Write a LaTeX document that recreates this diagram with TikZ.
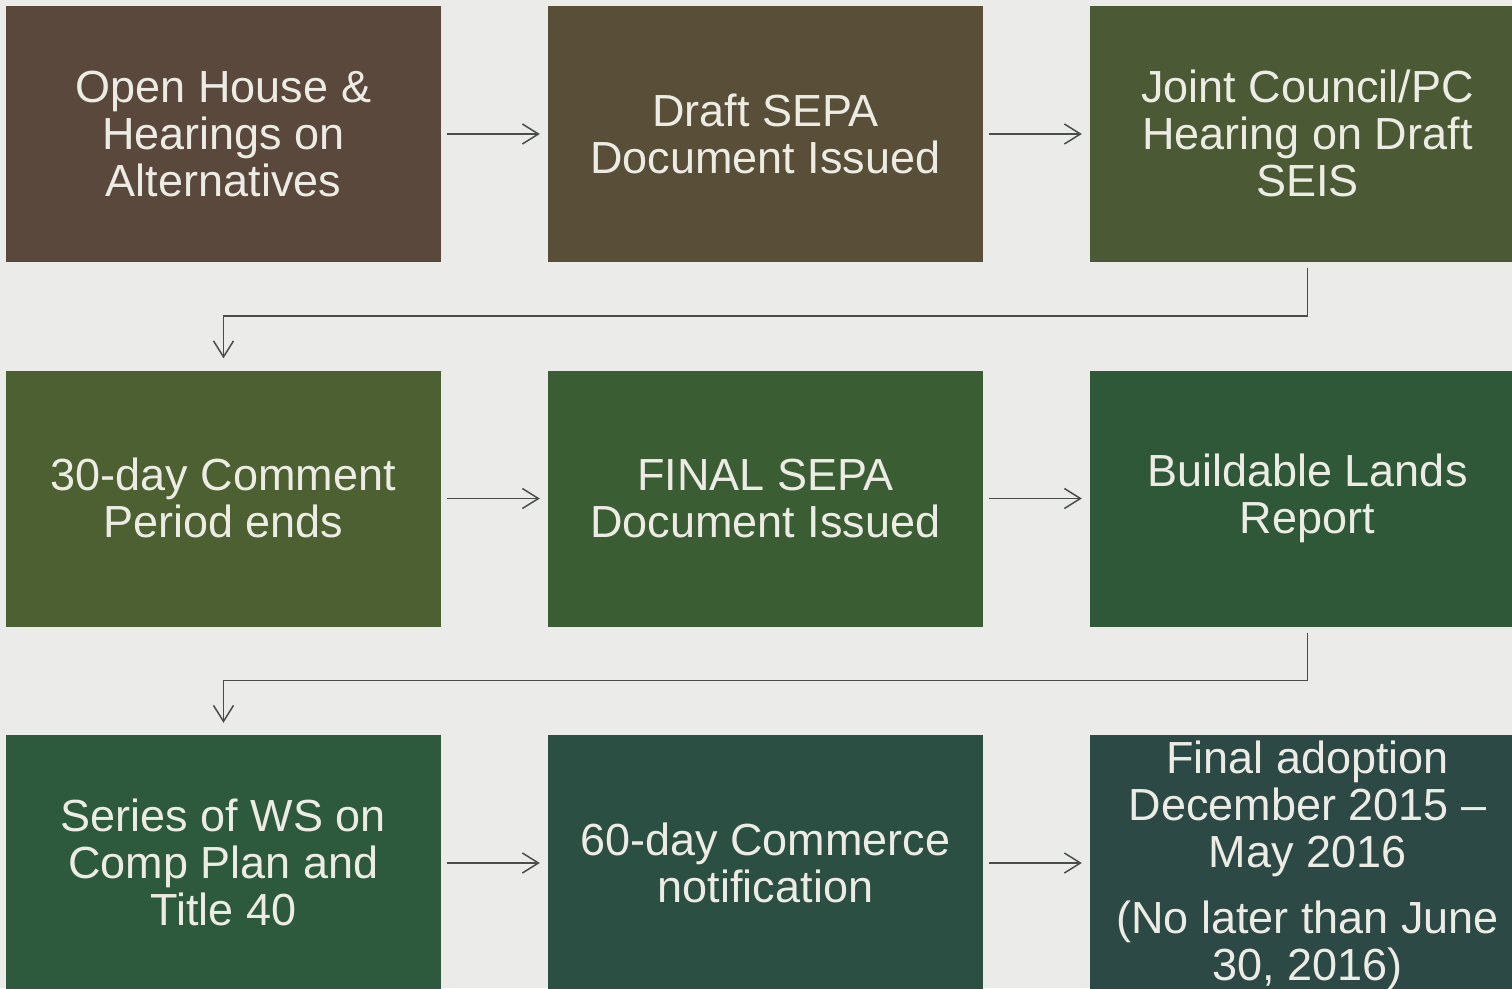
\documentclass[tikz,border=0pt]{standalone}
\usepackage{fontspec}
\setmainfont{Liberation Sans}
\usetikzlibrary{arrows.meta}
\definecolor{bg}{HTML}{EBEBE9}
\definecolor{cA}{HTML}{5A483C}
\definecolor{cB}{HTML}{594E37}
\definecolor{cC}{HTML}{4B5934}
\definecolor{cD}{HTML}{4D6031}
\definecolor{cE}{HTML}{3B5D34}
\definecolor{cF}{HTML}{2F5839}
\definecolor{cG}{HTML}{2D593D}
\definecolor{cH}{HTML}{2B4F42}
\definecolor{cI}{HTML}{2C4946}
\definecolor{txt}{HTML}{ECECE4}
\definecolor{ln}{HTML}{4A4E48}
\tikzset{
  x=1pt,y=1pt,
  stepbox/.style={draw=none, minimum width=435pt, minimum height=256pt, inner sep=0pt,
    align=center, text=txt, font=\fontsize{45}{47}\selectfont,
    execute at begin node={\rule{0pt}{39pt}}, execute at end node={\rule[-1pt]{0pt}{1pt}}},
  conn/.style={draw=ln, line width=1.5pt, -{Straight Barb[length=16pt,width=20pt,line width=1.5pt]}},
  elbow/.style={draw=ln, line width=1.5pt, -{Straight Barb[length=16pt,width=20pt,line width=1.5pt]}}
}
\begin{document}
\begin{tikzpicture}
\useasboundingbox (0,0) rectangle (1512,-988);
\clip (0,0) rectangle (1512,-988);
\fill[bg] (0,0) rectangle (1512,-988);
% row 1
\node[stepbox, fill=cA] (n1) at (223.5,-134) {Open House \&\\Hearings on\\Alternatives};
\node[stepbox, fill=cB] (n2) at (765.5,-134) {Draft SEPA\\Document Issued};
\node[stepbox, fill=cC] (n3) at (1307.5,-134) {Joint Council/PC\\Hearing on Draft\\SEIS};
% row 2
\node[stepbox, fill=cD] (n4) at (223.5,-498.5) {30-day Comment\\Period ends};
\node[stepbox, fill=cE] (n5) at (765.5,-498.5) {FINAL SEPA\\Document Issued};
\node[stepbox, fill=cF] (n6) at (1307.5,-498.5) {Buildable Lands\\Report};
% row 3
\node[stepbox, fill=cG] (n7) at (223.5,-863) {Series of WS on\\Comp Plan and\\Title 40};
\node[stepbox, fill=cH] (n8) at (765.5,-863) {60-day Commerce\\notification};
\node[stepbox, fill=cI, minimum height=261pt] (n9) at (1307.5,-865.5) {Final adoption\\December 2015 --\\May 2016\\[19pt](No later than June\\30, 2016)};
% connectors
\draw[conn] ([xshift=6pt]n1.east) -- ([xshift=-8pt]n2.west);
\draw[conn] ([xshift=6pt]n2.east) -- ([xshift=-8pt]n3.west);
\draw[conn] ([xshift=6pt]n4.east) -- ([xshift=-8pt]n5.west);
\draw[conn] ([xshift=6pt]n5.east) -- ([xshift=-8pt]n6.west);
\draw[conn] ([xshift=6pt]n7.east) -- ([xshift=-8pt]n8.west);
\draw[conn] ([xshift=6pt]n8.east) -- ([xshift=-8pt]n9.west |- n8.east);
\draw[elbow] ([yshift=-6pt]n3.south) -- ++(0,-48) -| ([yshift=12pt]n4.north);
\draw[elbow] ([yshift=-6pt]n6.south) -- ++(0,-48) -| ([yshift=12pt]n7.north);
\end{tikzpicture}
\end{document}
